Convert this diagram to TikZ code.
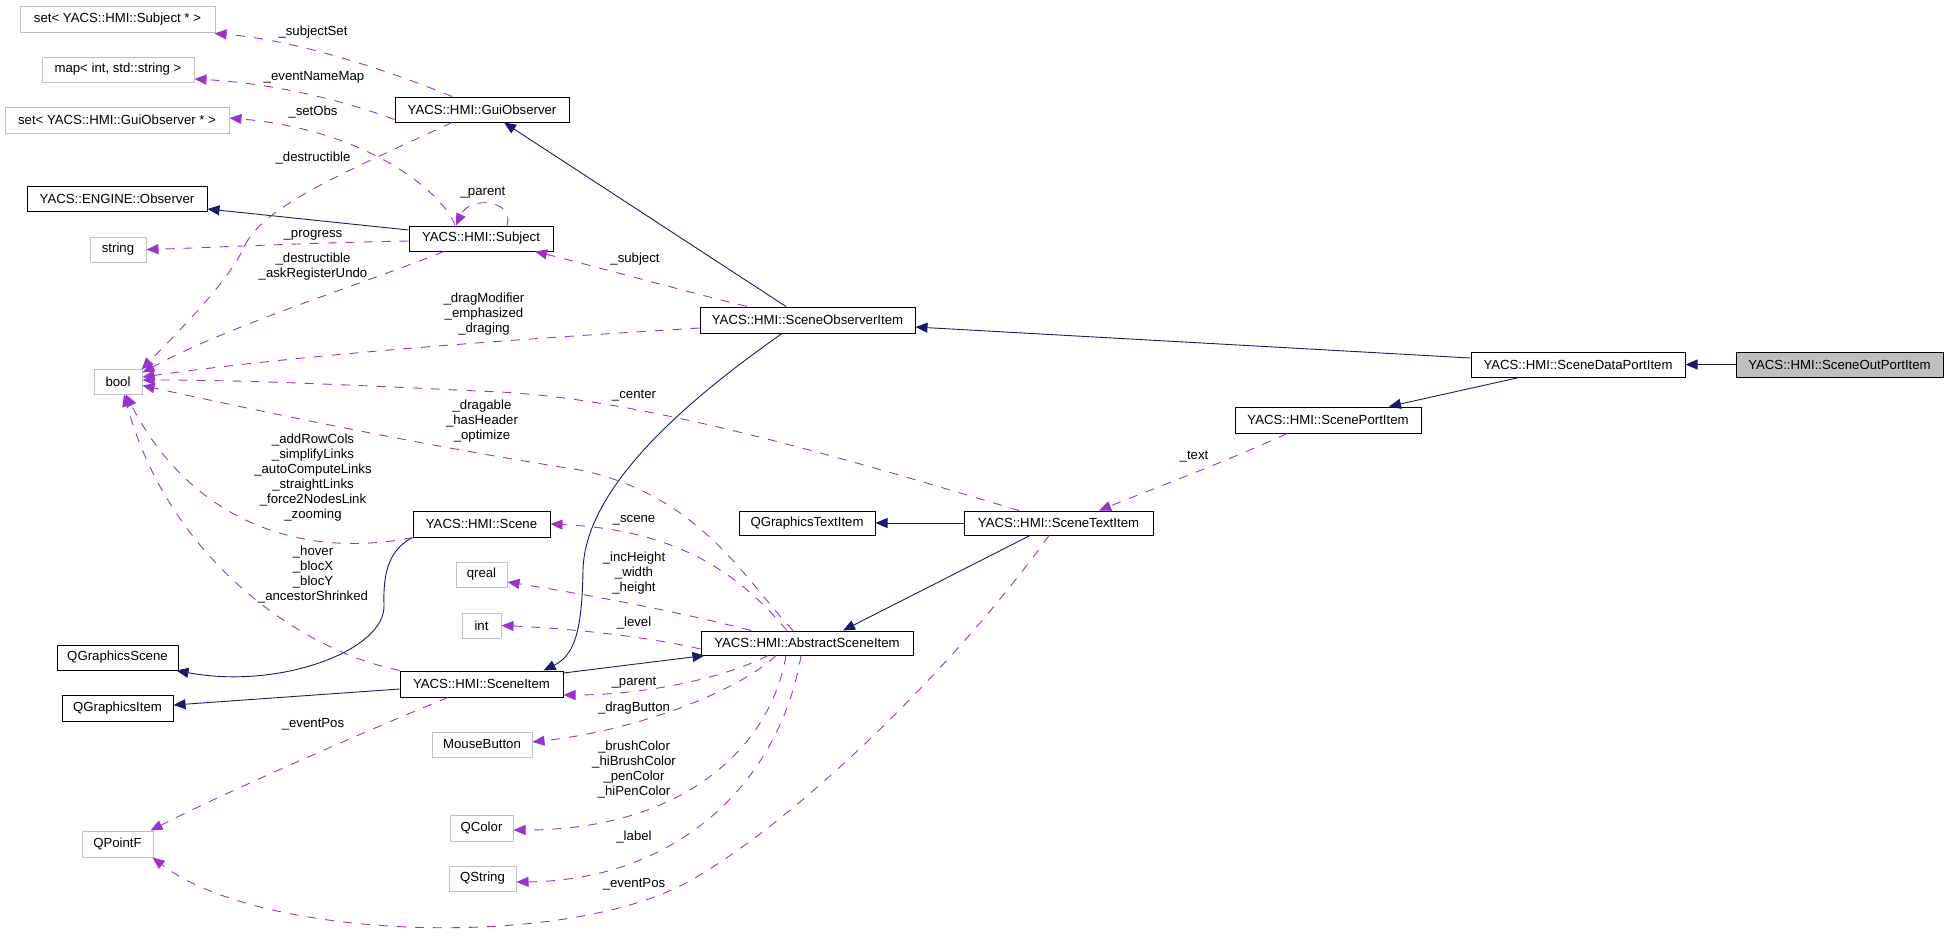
\documentclass[tikz,border=0pt]{standalone}
\usepackage{fontspec}
\setmainfont{Liberation Sans}
\usetikzlibrary{arrows.meta}
\definecolor{navy}{HTML}{191970}
\definecolor{orchid}{HTML}{9A32CD}
\definecolor{boxgray}{HTML}{BFBFBF}
\definecolor{fillgray}{HTML}{BFBFBF}
\begin{document}
\begin{tikzpicture}[x=1pt,y=-1pt,
  font=\fontsize{13.2}{15}\selectfont,
  cls/.style={draw=black, line width=1pt, inner sep=0pt, rectangle},
  ext/.style={draw=boxgray, line width=1pt, inner sep=0pt, rectangle},
  inh/.style={draw=navy, line width=0.9pt, -{Triangle[length=12pt,width=10pt,fill=navy]}},
  use/.style={draw=orchid, line width=0.9pt, dash pattern=on 9pt off 9pt, -{Triangle[length=12pt,width=10pt,fill=orchid]}},
  lbl/.style={align=center, inner sep=0pt}]
\useasboundingbox (0,0) rectangle (1948,935);

% ---------- nodes ----------
\node[ext, minimum width=195pt, minimum height=26pt] (setSubj) at (117.5,19) {set< YACS::HMI::Subject * >};
\node[ext, minimum width=152pt, minimum height=25pt] (mapInt) at (118,69.5) {map< int, std::string >};
\node[ext, minimum width=224pt, minimum height=26pt] (setGuiObs) at (117,120) {set< YACS::HMI::GuiObserver * >};
\node[cls, minimum width=174pt, minimum height=25pt] (guiObs) at (482,109.5) {YACS::HMI::GuiObserver};
\node[cls, minimum width=180pt, minimum height=25pt] (engObs) at (117,198.5) {YACS::ENGINE::Observer};
\node[cls, minimum width=144pt, minimum height=25pt] (subject) at (481,238.5) {YACS::HMI::Subject};
\node[ext, minimum width=56pt, minimum height=25pt] (string) at (118,249.5) {string};
\node[ext, minimum width=48pt, minimum height=25pt] (bool) at (118,381.5) {bool};
\node[cls, minimum width=215pt, minimum height=26pt] (sceneObs) at (807.5,320) {YACS::HMI::SceneObserverItem};
\node[cls, minimum width=214pt, minimum height=25pt] (dataPort) at (1578,364.5) {YACS::HMI::SceneDataPortItem};
\node[cls, fill=fillgray, minimum width=207pt, minimum height=25pt] (outPort) at (1839.5,364.5) {YACS::HMI::SceneOutPortItem};
\node[cls, minimum width=186pt, minimum height=26pt] (portItem) at (1328,420) {YACS::HMI::ScenePortItem};
\node[cls, minimum width=189pt, minimum height=24pt] (textItem) at (1058.5,523) {YACS::HMI::SceneTextItem};
\node[cls, minimum width=136pt, minimum height=24pt] (qgText) at (807,523) {QGraphicsTextItem};
\node[cls, minimum width=137pt, minimum height=26pt] (scene) at (481.5,524) {YACS::HMI::Scene};
\node[ext, minimum width=51pt, minimum height=25pt] (qreal) at (481.5,574.5) {qreal};
\node[ext, minimum width=39pt, minimum height=25pt] (int) at (481.5,625.5) {int};
\node[cls, minimum width=212pt, minimum height=24pt] (abstract) at (807,643) {YACS::HMI::AbstractSceneItem};
\node[cls, minimum width=121pt, minimum height=25pt] (qgScene) at (117.5,657.5) {QGraphicsScene};
\node[cls, minimum width=163pt, minimum height=26pt] (sceneItem) at (481.5,684) {YACS::HMI::SceneItem};
\node[cls, minimum width=111pt, minimum height=26pt] (qgItem) at (117.5,708) {QGraphicsItem};
\node[ext, minimum width=100pt, minimum height=25pt] (mouse) at (482,744.5) {MouseButton};
\node[ext, minimum width=63pt, minimum height=26pt] (qcolor) at (481.5,828) {QColor};
\node[ext, minimum width=67pt, minimum height=25pt] (qstring) at (482.5,878.5) {QString};
\node[ext, minimum width=71pt, minimum height=26pt] (qpointf) at (117.5,844) {QPointF};

% ---------- inheritance ----------
\draw[inh] (outPort.west) -- (dataPort.east);
\draw[inh] ([yshift=6.5pt]dataPort.west) -- ([yshift=-7pt]sceneObs.east);
\draw[inh] ([xshift=-59pt]dataPort.south) -- ([xshift=61pt]portItem.north);
\draw[inh] ([xshift=-21.5pt]sceneObs.north) -- ([xshift=22pt]guiObs.south);
\draw[inh] ([yshift=8.5pt]subject.west) -- ([yshift=-10.5pt]engObs.east);
\draw[inh] ([xshift=-25.5pt]sceneObs.south) .. controls (680,405) and (585,490) .. (583,570)
  .. controls (582,630) and (575,655) .. ([xshift=62pt]sceneItem.north);
\draw[inh] ([yshift=11pt]sceneItem.east) -- ([xshift=4pt]abstract.south west);
\draw[inh] ([yshift=-5pt]sceneItem.west) -- ([yshift=3pt]qgItem.east);
\draw[inh] (scene.south west) .. controls (388,550) and (383,575) .. (384,605)
  .. controls (386,650) and (280,690) .. ([xshift=-2pt]qgScene.south east);
\draw[inh] (textItem.west) -- (qgText.east);
\draw[inh] ([xshift=-28.5pt]textItem.south) -- ([xshift=36pt]abstract.north);

% ---------- usage ----------
\draw[use] ([xshift=-30pt]guiObs.north) .. controls (400,75) and (300,40) .. ([xshift=-1pt,yshift=-1pt]setSubj.south east);
\draw[use] ([yshift=-10pt]guiObs.west) .. controls (320,92) and (250,82) .. ([yshift=-9.5pt]mapInt.east);
\draw[use] ([xshift=-26pt]subject.north) .. controls (445,195) and (370,130) .. ([yshift=2pt]setGuiObs.east);
\draw[use] ([xshift=26pt]subject.north) .. controls (515,200) and (470,195) .. ([xshift=-25pt]subject.north);
\draw[use] ([xshift=-30pt]guiObs.south) .. controls (350,170) and (265,205) .. (245,245)
  .. controls (230,280) and (180,330) .. ([xshift=-1pt,yshift=-1pt]bool.north east);
\draw[use] ([yshift=-2.5pt]subject.west) .. controls (300,243) and (200,248) .. (string.east);
\draw[use] ([xshift=-37pt]subject.south) .. controls (360,285) and (230,325) .. ([yshift=9pt]bool.east);
\draw[use] ([yshift=-8pt]sceneObs.west) .. controls (500,340) and (300,355) .. ([yshift=4.5pt]bool.east);
\draw[use] ([xshift=-39.5pt]textItem.north) .. controls (850,460) and (650,400) .. (500,392)
  .. controls (350,385) and (250,380) .. ([yshift=1.5pt]bool.east);
\draw[use] ([xshift=-14pt]abstract.north) .. controls (745,580) and (700,495) .. (580,470)
  .. controls (450,450) and (300,420) .. ([yshift=-4pt]bool.east);
\draw[use] ([xshift=-20pt]abstract.north) .. controls (740,575) and (680,530) .. (scene.east);
\draw[use] ([xshift=-56pt]abstract.north) .. controls (680,612) and (590,595) .. ([yshift=-7.5pt]qreal.east);
\draw[use] ([yshift=-6pt]abstract.west) .. controls (640,635) and (560,628) .. (int.east);
\draw[use] ([xshift=-39pt]abstract.south) .. controls (720,680) and (640,695) .. ([yshift=-11pt]sceneItem.east);
\draw[use] ([xshift=-31pt]abstract.south) .. controls (740,690) and (640,730) .. ([yshift=2.5pt]mouse.east);
\draw[use] ([xshift=-21pt]abstract.south) .. controls (770,750) and (680,830) .. ([yshift=-2pt]qcolor.east);
\draw[use] ([xshift=-6pt]abstract.south) .. controls (780,780) and (680,880) .. ([yshift=-3.5pt]qstring.east);
\draw[use] ([xshift=-33.5pt]sceneItem.south) .. controls (380,725) and (230,790) .. ([xshift=-3pt]qpointf.north east);
\draw[use] ([xshift=-9.5pt]textItem.south) .. controls (960,660) and (800,820) .. (686,883)
  .. controls (560,950) and (260,940) .. ([xshift=-1pt]qpointf.south east);
\draw[use] ([xshift=-41pt]portItem.south) .. controls (1230,460) and (1150,490) .. ([xshift=40.5pt]textItem.north);
\draw[use] ([xshift=-60.5pt]sceneObs.north) .. controls (680,290) and (590,265) .. ([xshift=54pt]subject.south);
\draw[use] (scene.south west) .. controls (300,560) and (190,520) .. ([xshift=8pt]bool.south);
\draw[use] (sceneItem.north west) .. controls (300,650) and (170,560) .. ([xshift=6pt]bool.south);

% ---------- labels ----------
\node[lbl] (l1) at (313,32) {\_subjectSet};
\node[lbl] (l2) at (314,77) {\_eventNameMap};
\node[lbl] (l3) at (313,112) {\_setObs};
\node[lbl] (l4) at (313,158) {\_destructible};
\node[lbl] (l5) at (483,193) {\_parent};
\node[lbl] (l6) at (313,235) {\_progress};
\node[lbl] (l7) at (313,266.5) {\_destructible\\\_askRegisterUndo};
\node[lbl] (l8) at (635,259) {\_subject};
\node[lbl] (l9) at (484,314) {\_dragModifier\\\_emphasized\\\_draging};
\node[lbl] (l10) at (634,396) {\_center};
\node[lbl] (l11) at (482,421) {\_dragable\\\_hasHeader\\\_optimize};
\node[lbl] (l12) at (1194,457) {\_text};
\node[lbl] (l13) at (313,477.5) {\_addRowCols\\\_simplifyLinks\\\_autoComputeLinks\\\_straightLinks\\\_force2NodesLink\\\_zooming};
\node[lbl] (l14) at (634,520) {\_scene};
\node[lbl] (l15) at (313,574.5) {\_hover\\\_blocX\\\_blocY\\\_ancestorShrinked};
\node[lbl] (l16) at (634,573.5) {\_incHeight\\\_width\\\_height};
\node[lbl] (l17) at (634,623) {\_level};
\node[lbl] (l18) at (634,683) {\_parent};
\node[lbl] (l19) at (634,708) {\_dragButton};
\node[lbl] (l20) at (313,724) {\_eventPos};
\node[lbl] (l21) at (634,769.5) {\_brushColor\\\_hiBrushColor\\\_penColor\\\_hiPenColor};
\node[lbl] (l22) at (634,837) {\_label};
\node[lbl] (l23) at (634,884) {\_eventPos};
\end{tikzpicture}
\end{document}
